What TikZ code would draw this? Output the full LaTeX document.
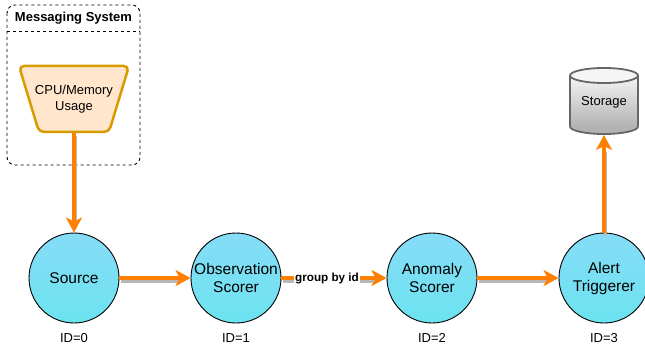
\documentclass[tikz,border=0pt]{standalone}
\usepackage{fontspec}
\setmainfont{Liberation Sans}
\usetikzlibrary{arrows.meta}
\definecolor{flowOrange}{HTML}{FF8000}
\definecolor{cyanTop}{HTML}{86DCF7}
\definecolor{cyanBot}{HTML}{6CE3F0}
\definecolor{peachFill}{HTML}{FFE6CC}
\definecolor{peachLine}{HTML}{D79B00}
\definecolor{storTop}{HTML}{F5F5F5}
\definecolor{storBot}{HTML}{B3B3B3}
\definecolor{storLine}{HTML}{666666}
\tikzset{
  proc/.style={circle, draw=black, line width=0.9pt, minimum size=90pt, inner sep=0pt,
    top color=cyanTop, bottom color=cyanBot, align=center,
    font=\fontsize{15.5}{18}\selectfont},
  idlabel/.style={font=\fontsize{13}{15}\selectfont},
  flow/.style={draw=flowOrange, line width=4pt, -{Stealth[length=15pt,width=16pt,inset=4pt]}},
  flowshadow/.style={draw=black!28, line width=3.5pt, shorten >=14pt},
  edgelabel/.style={font=\bfseries\fontsize{11.7}{13}\selectfont, fill=white, inner sep=1pt},
}
\newcommand\flowedge[2]{%
  \draw[flowshadow, transform canvas={shift={(1.5pt,-3pt)}}] (#1) -- (#2);
  \draw[flow] (#1) -- (#2);}
\begin{document}
\begin{tikzpicture}[x=1pt,y=-1pt]
\useasboundingbox (0,0) rectangle (645,350);
\clip (0,0) rectangle (645,350);
% container
\draw[dashed, dash pattern=on 3pt off 3pt, line width=0.9pt, rounded corners=8pt] (7,5) rectangle (140,165);
\draw[dashed, dash pattern=on 3pt off 3pt, line width=0.9pt] (7,31) -- (140,31);
\node[font=\bfseries\fontsize{13}{15}\selectfont] (title) at (73.5,18) {Messaging System};
% trapezoid source
\draw[fill=peachFill, draw=peachLine, line width=2.5pt, rounded corners=5pt, line join=round]
  (19,66) -- (129,66) -- (109,132) -- (39,132) -- cycle;
\node[align=center, font=\fontsize{13}{15.5}\selectfont] (cpu) at (74,99) {CPU/Memory\\Usage};
\coordinate (cpubot) at (74,133);
% storage cylinder
\fill[storBot] (604,126.5) ellipse (34 and 7.5);
\shade[top color=storTop, bottom color=storBot] (570,75.5) rectangle (638,126.5);
\fill[storTop] (604,75.5) ellipse (34 and 7.5);
\draw[storLine, line width=1.8pt] (604,75.5) ellipse (34 and 7.5);
\draw[storLine, line width=1.8pt] (570,75.5) -- (570,126.5);
\draw[storLine, line width=1.8pt] (638,75.5) -- (638,126.5);
\begin{scope}
  \clip (560,126.5) rectangle (650,140);
  \draw[storLine, line width=1.8pt] (604,126.5) ellipse (34 and 7.5);
\end{scope}
\node[font=\fontsize{13}{15}\selectfont] (stor) at (604,102) {Storage};
\coordinate (storbot) at (604,135);
% processes
\node[proc] (src) at (74,278) {Source};
\node[proc] (obs) at (236,278) {Observation\\Scorer};
\node[proc] (anom) at (432,278) {Anomaly\\Scorer};
\node[proc] (alert) at (604,278) {Alert\\Triggerer};
\node[idlabel] (id0) at (74,338) {ID=0};
\node[idlabel] (id1) at (236,338) {ID=1};
\node[idlabel] (id2) at (432,338) {ID=2};
\node[idlabel] (id3) at (604,338) {ID=3};
% connectors
\flowedge{cpubot}{src}
\flowedge{src}{obs}
\flowedge{obs}{anom}
\node[edgelabel] (gbl) at (327,278) {group by id};
\flowedge{anom}{alert}
\flowedge{alert}{storbot}
\end{tikzpicture}
\end{document}
